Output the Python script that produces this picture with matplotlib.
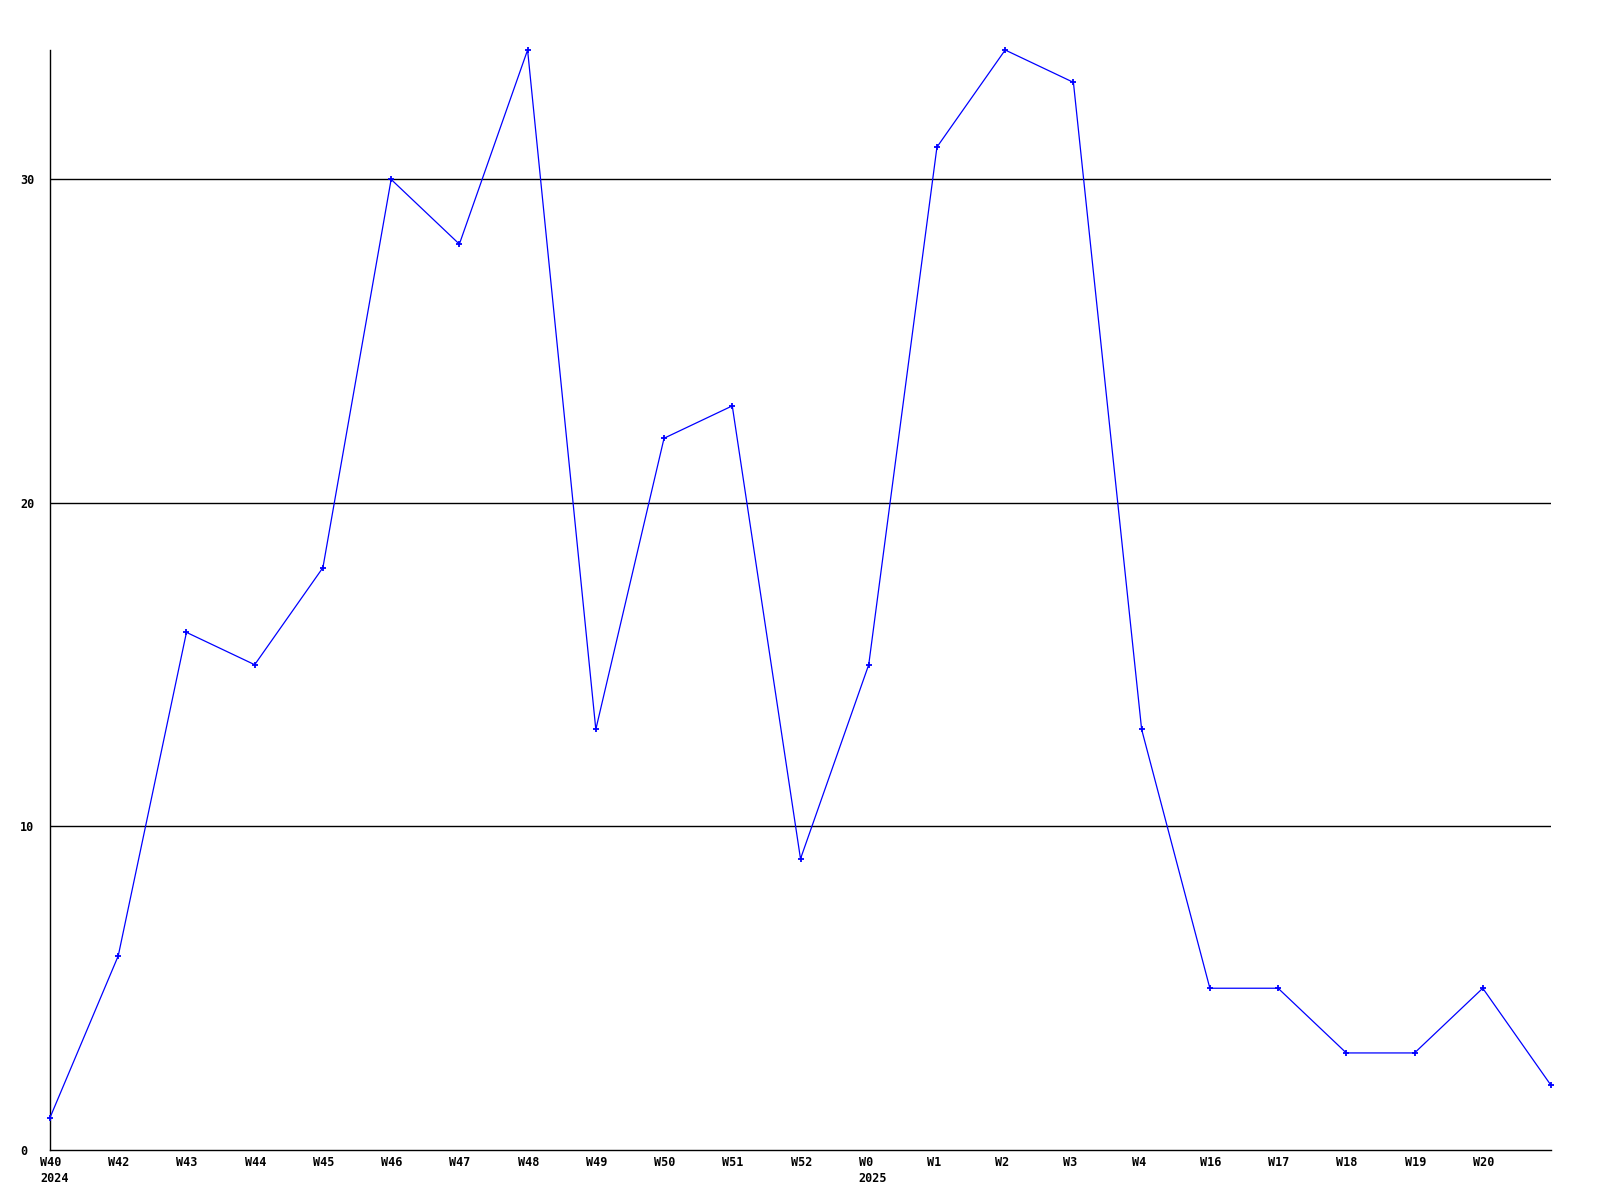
import numpy as np
import matplotlib
matplotlib.use('Agg')
import matplotlib.pyplot as plt
import matplotlib.transforms as mtransforms

plt.rcParams['font.family'] = 'DejaVu Sans Mono'
plt.rcParams['font.size'] = 8.5
plt.rcParams['font.weight'] = 'bold'

weeks = ['W40', 'W42', 'W43', 'W44', 'W45', 'W46', 'W47', 'W48', 'W49', 'W50',
         'W51', 'W52', 'W0', 'W1', 'W2', 'W3', 'W4', 'W16', 'W17', 'W18', 'W19', 'W20', '']
years = {'W40': '2024', 'W0': '2025'}
counts = [1, 6, 16, 15, 18, 30, 28, 34, 13, 22, 23, 9, 15, 31, 34, 33, 13, 5, 5, 3, 3, 5, 2]

fig = plt.figure(figsize=(16, 12), dpi=100)
ax = fig.add_axes([50/1600, 50/1200, 1501/1600, 1100/1200])

x = np.arange(len(counts))
for y in [10, 20, 30]:
    ax.axhline(y, color='black', lw=1.0, zorder=1)
ax.plot(x, counts, color='blue', lw=0.9, marker='+', ms=4, mew=1.3, zorder=3, clip_on=False)

ax.set_xlim(0, len(counts) - 1)
ax.set_ylim(0, 34)

# week labels sit left-aligned a little before each point
ax.set_xticks(x)
ax.set_xticklabels([])
ax.tick_params(axis='x', length=0)
shift = mtransforms.ScaledTranslation(-10/100, -6/100, fig.dpi_scale_trans)
for i, w in enumerate(weeks):
    txt = w + ('\n' + years[w] if w in years else '')
    ax.text(i, 0, txt, transform=ax.get_xaxis_transform() + shift,
            ha='left', va='top', linespacing=1.25)

ax.set_yticks([0, 10, 20, 30])
ax.set_yticklabels(['0', '10', '20', '30'], ha='left')
ax.tick_params(axis='y', length=0, pad=21.5)

for s in ['top', 'right']:
    ax.spines[s].set_visible(False)
for s in ['left', 'bottom']:
    ax.spines[s].set_color('black')
    ax.spines[s].set_linewidth(1.0)

fig.savefig('out.png', dpi=100, facecolor='white')
